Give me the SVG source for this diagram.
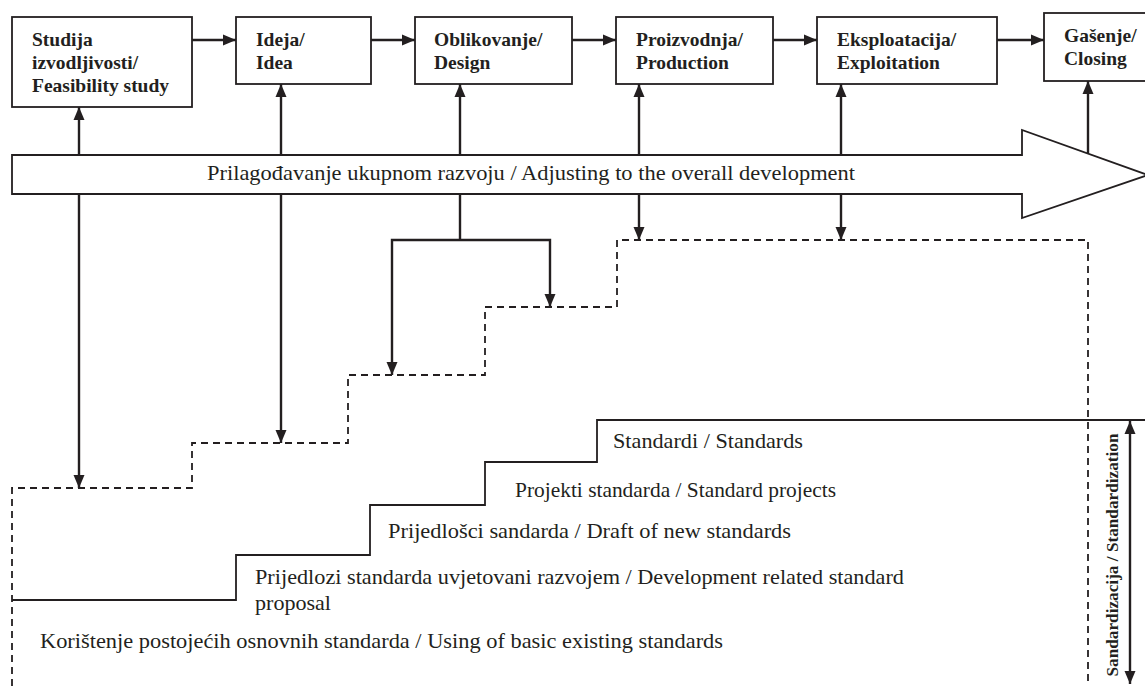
<svg xmlns="http://www.w3.org/2000/svg" width="1145" height="686" viewBox="0 0 1145 686">
<style>
.box{fill:#fff;stroke:#231f20;stroke-width:1.8}
.bt{font-family:'Liberation Serif','Times New Roman',Times,'DejaVu Serif',serif;font-weight:bold;font-size:19.5px;fill:#231f20}
.t{font-family:'Liberation Serif','Times New Roman',Times,'DejaVu Serif',serif;font-size:21px;fill:#231f20}
.c{fill:none;stroke:#231f20;stroke-width:2.4}
.d{fill:none;stroke:#231f20;stroke-width:1.8;stroke-dasharray:7 5}
.s{fill:none;stroke:#231f20;stroke-width:1.8}
</style>
<defs>
<marker id="ah" markerUnits="userSpaceOnUse" markerWidth="14" markerHeight="14" viewBox="0 0 14 14" refX="13" refY="7" orient="auto">
<path d="M0,1.5 L13,7 L0,12.5 Z" fill="#231f20"/>
</marker>
<marker id="ahs" markerUnits="userSpaceOnUse" markerWidth="14" markerHeight="14" viewBox="0 0 14 14" refX="1" refY="7" orient="auto">
<path d="M14,1.5 L1,7 L14,12.5 Z" fill="#231f20"/>
</marker>
</defs>
<rect width="1145" height="686" fill="#fff"/>
<g id="band">
<polygon points="12,155 1022,155 1022,130 1148,175 1022,218 1022,194 12,194" fill="#fff" stroke="#231f20" stroke-width="1.8"/>
<text class="t" x="207" y="180" textLength="648" lengthAdjust="spacingAndGlyphs">Prilagođavanje ukupnom razvoju / Adjusting to the overall development</text>
</g>
<g id="n1"><rect class="box" x="12" y="17" width="180" height="90"/>
<text class="bt" x="32" y="46">Studija</text><text class="bt" x="32" y="69">izvodljivosti/</text><text class="bt" x="32" y="92">Feasibility study</text></g>
<g id="n2"><rect class="box" x="236" y="17" width="135" height="67"/>
<text class="bt" x="256" y="46">Ideja/</text><text class="bt" x="256" y="69">Idea</text></g>
<g id="n3"><rect class="box" x="415" y="17" width="157" height="67"/>
<text class="bt" x="434" y="46">Oblikovanje/</text><text class="bt" x="434" y="69">Design</text></g>
<g id="n4"><rect class="box" x="616" y="17" width="157" height="67"/>
<text class="bt" x="636" y="46">Proizvodnja/</text><text class="bt" x="636" y="69">Production</text></g>
<g id="n5"><rect class="box" x="817" y="17" width="180" height="67"/>
<text class="bt" x="837" y="46">Eksploatacija/</text><text class="bt" x="837" y="69">Exploitation</text></g>
<g id="n6"><rect class="box" x="1044" y="13" width="110" height="68"/>
<text class="bt" x="1064" y="42">Gašenje/</text><text class="bt" x="1064" y="65">Closing</text></g>
<g id="connectors">
<line class="c" x1="192" y1="40" x2="236" y2="40" marker-end="url(#ah)"/>
<line class="c" x1="371" y1="40" x2="415" y2="40" marker-end="url(#ah)"/>
<line class="c" x1="572" y1="40" x2="616" y2="40" marker-end="url(#ah)"/>
<line class="c" x1="773" y1="40" x2="817" y2="40" marker-end="url(#ah)"/>
<line class="c" x1="997" y1="40" x2="1044" y2="40" marker-end="url(#ah)"/>
<line class="c" x1="79" y1="155" x2="79" y2="107" marker-end="url(#ah)"/>
<line class="c" x1="281" y1="155" x2="281" y2="84" marker-end="url(#ah)"/>
<line class="c" x1="460" y1="155" x2="460" y2="84" marker-end="url(#ah)"/>
<line class="c" x1="639" y1="155" x2="639" y2="84" marker-end="url(#ah)"/>
<line class="c" x1="841" y1="155" x2="841" y2="84" marker-end="url(#ah)"/>
<line class="c" x1="1088" y1="153" x2="1088" y2="81" marker-end="url(#ah)"/>
<line class="c" x1="79" y1="194" x2="79" y2="488" marker-end="url(#ah)"/>
<line class="c" x1="281" y1="194" x2="281" y2="443" marker-end="url(#ah)"/>
<polyline class="c" points="460,194 460,240"/>
<polyline class="c" points="460,240 392,240 392,375" marker-end="url(#ah)"/>
<polyline class="c" points="460,240 550,240 550,307" marker-end="url(#ah)"/>
<line class="c" x1="639" y1="194" x2="639" y2="240" marker-end="url(#ah)"/>
<line class="c" x1="841" y1="194" x2="841" y2="240" marker-end="url(#ah)"/>
<polyline class="d" points="12,686 12,488 192,488 192,443 348,443 348,375 485,375 485,307 617,307 617,240 1088,240 1088,686"/>
<polyline class="s" points="12,600 236,600 236,555 370,555 370,505 485,505 485,462 597,462 597,420 1145,420"/>
<line class="c" x1="1130" y1="421" x2="1130" y2="684" marker-start="url(#ahs)" marker-end="url(#ah)"/>
</g>
<g id="labels">
<text class="t" x="613" y="448" textLength="190" lengthAdjust="spacingAndGlyphs">Standardi / Standards</text>
<text class="t" x="515" y="497" textLength="321" lengthAdjust="spacingAndGlyphs">Projekti standarda / Standard projects</text>
<text class="t" x="388" y="538" textLength="403" lengthAdjust="spacingAndGlyphs">Prijedlošci sandarda / Draft of new standards</text>
<text class="t" x="255" y="584" textLength="649" lengthAdjust="spacingAndGlyphs">Prijedlozi standarda uvjetovani razvojem / Development related standard</text>
<text class="t" x="255" y="610" textLength="76" lengthAdjust="spacingAndGlyphs">proposal</text>
<text class="t" x="40" y="648" textLength="683" lengthAdjust="spacingAndGlyphs">Korištenje postojećih osnovnih standarda / Using of basic existing standards</text>
<text class="bt" style="font-size:17px" transform="translate(1118,555) rotate(-90)" text-anchor="middle" textLength="243" lengthAdjust="spacingAndGlyphs">Sandardizacija / Standardization</text>
</g>
</svg>
